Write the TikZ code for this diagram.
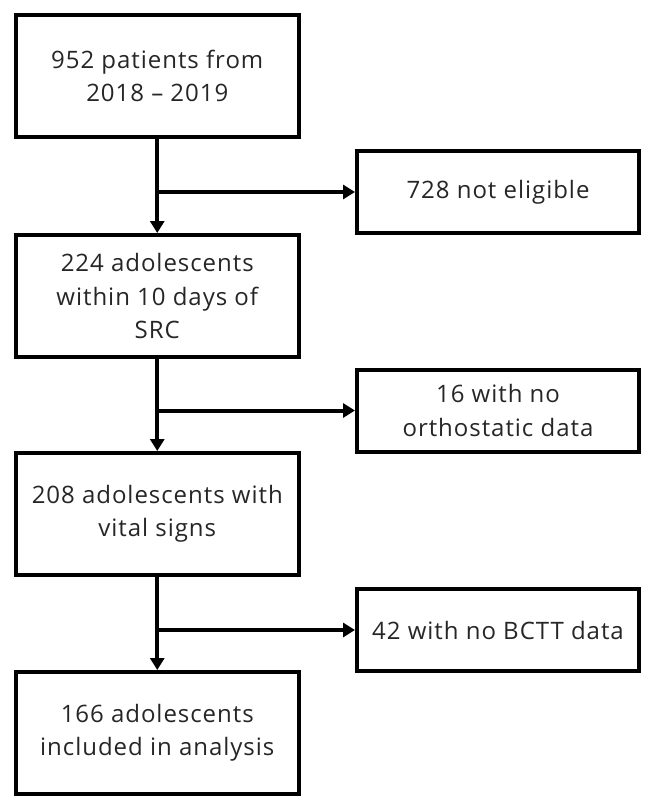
\documentclass[tikz,border=0pt]{standalone}
\usepackage{fontspec}
\setmainfont{Open Sans}[Ligatures=NoCommon,LetterSpace=4]
\usetikzlibrary{arrows.meta}
\begin{document}
\begin{tikzpicture}[x=1pt,y=-1pt,
  box/.style={draw=black,line width=4pt,rectangle,align=center,inner sep=0pt,
    text=black!85,font=\fontsize{24}{33.5}\selectfont},
  mainbox/.style={box,minimum width=283.5pt,minimum height=122pt},
  sidebox/.style={box,minimum width=282pt,minimum height=82pt},
  flow/.style={line width=4pt,-{Triangle[length=12pt,width=14pt]}}]
\useasboundingbox (0,0) rectangle (651,809);
\node[mainbox] (b1) at (157.25,76) {952 patients from\\2018 -- 2019};
\node[sidebox] (s1) at (498,192) {728 not eligible};
\node[mainbox] (b2) at (157.25,296) {224 adolescents\\within 10 days of\\SRC};
\node[sidebox] (s2) at (498,410.5) {16 with no\\orthostatic data};
\node[mainbox] (b3) at (157.25,514) {208 adolescents with\\vital signs};
\node[sidebox] (s3) at (498,630) {42 with no BCTT data};
\node[mainbox] (b4) at (157.25,733) {166 adolescents\\included in analysis};
\draw[flow] (b1.south) -- (b2.north);
\draw[flow] (b1.south |- s1.west) -- (s1.west);
\draw[flow] (b2.south) -- (b3.north);
\draw[flow] (b2.south |- s2.west) -- (s2.west);
\draw[flow] (b3.south) -- (b4.north);
\draw[flow] (b3.south |- s3.west) -- (s3.west);
\end{tikzpicture}
\end{document}
